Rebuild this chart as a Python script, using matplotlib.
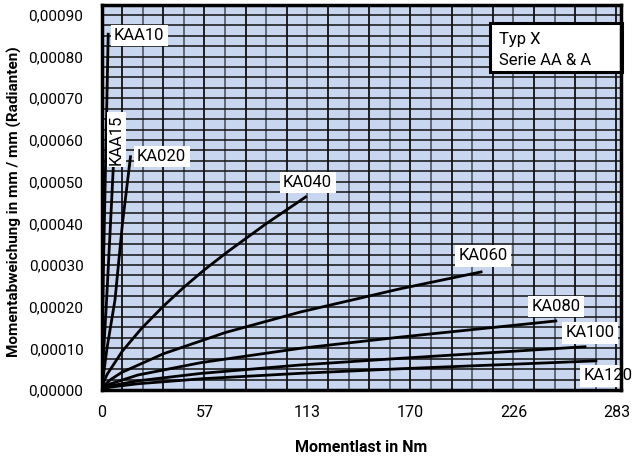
import matplotlib
matplotlib.use("Agg")
import matplotlib.pyplot as plt
from matplotlib.ticker import FuncFormatter
from matplotlib.patches import Rectangle
import numpy as np

plt.rcParams['font.family'] = ['Roboto', 'DejaVu Sans']

# Data (moment load in Nm, deflection in rad)
series_names = ["KAA10", "KAA15", "KA020", "KA040", "KA060", "KA080", "KA100", "KA120"]
kaa10_x = [0, 0.4, 1.0, 1.8, 2.7, 3.7]
kaa10_y = [0, 0.00012, 0.00028, 0.00045, 0.00064, 0.000857]
kaa15_x = [0, 1.4, 2.8, 4.6, 6.5]
kaa15_y = [0, 0.00011, 0.000216, 0.00037, 0.000537]
ka020_x = [0, 3.0, 7.4, 11.5, 16.0]
ka020_y = [0, 0.00010, 0.000216, 0.00040, 0.000563]
ka040_x = [0, 1, 3, 11.4, 22, 33.9, 45.3, 56.6, 69.6, 90, 112.6]
ka040_y = [0, 0.000017, 0.000037, 0.000093, 0.000148, 0.000201, 0.000247, 0.000289, 0.000333, 0.000398, 0.000465]
ka060_x = [0, 1, 5, 11, 34, 68, 109, 164, 209]
ka060_y = [0, 0.000009, 0.000025, 0.000042, 0.000087, 0.000138, 0.000187, 0.000243, 0.000284]
ka080_x = [0, 1, 5, 20, 55, 109, 164, 250]
ka080_y = [0, 0.000006, 0.000015, 0.000036, 0.000066, 0.000100, 0.000127, 0.000166]
ka100_x = [0, 1, 5, 20, 55, 109, 164, 266]
ka100_y = [0, 0.000004, 0.000010, 0.000022, 0.000040, 0.000060, 0.000076, 0.000104]
ka120_x = [0, 1, 5, 20, 55, 109, 164, 272]
ka120_y = [0, 0.000003, 0.000007, 0.000015, 0.000027, 0.000040, 0.000051, 0.000070]

xtick_vals = [0, 56.5, 113, 169.5, 226, 282.5]
xtick_labels = ["0", "57", "113", "170", "226", "283"]
ytick_vals = [0.0, 0.0001, 0.0002, 0.0003, 0.0004, 0.0005, 0.0006, 0.0007, 0.0008, 0.0009]

series_x = [kaa10_x, kaa15_x, ka020_x, ka040_x, ka060_x, ka080_x, ka100_x, ka120_x]
series_y = [kaa10_y, kaa15_y, ka020_y, ka040_y, ka060_y, ka080_y, ka100_y, ka120_y]

# label placements (data coords) and rotation
label_pos = [(6.9, 0.000851, 0), (8.0, 0.000601, 90), (19.5, 0.00056, 0), (99.6, 0.000498, 0),
             (196, 0.000322, 0), (235.7, 0.0002, 0), (254.4, 0.000137, 0), (264.3, 0.0000337, 0)]

fig = plt.figure(figsize=(6.33, 4.59), dpi=100)
ax = fig.add_axes([101.5/633, (459-390)/459, (621-101.5)/633, (390-4.5)/459])
ax.set_facecolor('#c9d6ef')
xmax, ymax = 285, 0.000925
ax.set_xlim(0, xmax)
ax.set_ylim(0, ymax)

# grid
gx = np.arange(1, 26) * 11.3
for i, g in enumerate(gx):
    ax.axvline(g, color='#111111' if i % 2 == 0 else '#59606e', lw=1.3, zorder=1)
gy = np.arange(1, 37) * 0.000025
for g in gy:
    ax.axhline(g, color='#111111', lw=1.1, zorder=1)

for xs, ys in zip(series_x, series_y):
    ax.plot(xs, ys, color='black', lw=2.0, zorder=3, solid_capstyle='butt')

for name, (lx, ly, rot) in zip(series_names, label_pos):
    if rot == 0:
        ax.text(lx, ly, name, fontsize=12, ha='left', va='center', zorder=4, clip_on=False,
                bbox=dict(boxstyle='square,pad=0.2', fc='white', ec='none'))
    else:
        ax.text(lx, ly, name, fontsize=12, ha='center', va='center', rotation=90, zorder=4,
                bbox=dict(boxstyle='square,pad=0.12', fc='white', ec='none'))

ax.add_patch(Rectangle((0.748, 0.825), 0.254, 0.127, transform=ax.transAxes, fc='white',
                       ec='black', lw=2.2, zorder=5, clip_on=False))
ax.text(0.765, 0.908, "Typ X", transform=ax.transAxes, fontsize=12, ha='left', va='center', zorder=6)
ax.text(0.765, 0.856, "Serie AA & A", transform=ax.transAxes, fontsize=12, ha='left', va='center', zorder=6)

ax.set_xticks(xtick_vals)
ax.set_xticklabels(xtick_labels)
ax.set_yticks(ytick_vals)
ax.yaxis.set_major_formatter(FuncFormatter(lambda v, p: f"{v:.5f}".replace('.', ',')))
ax.tick_params(axis='both', length=0, labelsize=11.5)
ax.tick_params(axis='y', labelsize=11)
ax.tick_params(axis='x', pad=11)
ax.tick_params(axis='y', pad=13)
for s in ax.spines.values():
    s.set_linewidth(2.5)
    s.set_zorder(7)

ax.set_xlabel("Momentlast in Nm", fontsize=11.5, fontweight='bold')
ax.xaxis.set_label_coords((361-101.5)/519.5, -(447-390)/385.5)
ax.set_ylabel("Momentabweichung in mm / mm (Radianten)", fontsize=11, fontweight='bold')
ax.yaxis.set_label_coords((14-101.5)/519.5, (390-202)/385.5)
ax.xaxis.label.set_va('center')
ax.yaxis.label.set_va('center')

fig.savefig("out.png", dpi=100)
